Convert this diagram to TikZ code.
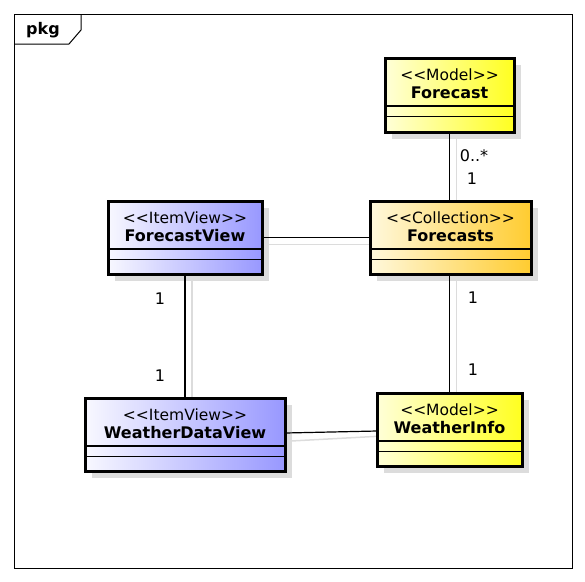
\documentclass[tikz,border=0pt]{standalone}
\usepackage{fontspec}
\setmainfont{DejaVu Sans}
\usetikzlibrary{shadows}
\pgfdeclarelayer{background}
\pgfsetlayers{background,main}
\definecolor{yelL}{HTML}{FFFFD8}
\definecolor{yelR}{HTML}{FFFF20}
\definecolor{orL}{HTML}{FFF8DC}
\definecolor{orR}{HTML}{FFCC30}
\definecolor{bluL}{HTML}{F8F8FF}
\definecolor{bluR}{HTML}{9898FF}
\definecolor{shgray}{HTML}{DCDCDC}
\tikzset{
  clsbox/.style={rectangle, draw=black, line width=3pt, inner sep=0pt, outer sep=0pt,
    drop shadow={shadow xshift=7pt, shadow yshift=-7pt, fill=shgray, opacity=1}},
  yelbox/.style={left color=yelL, right color=yelR},
  orbox/.style={left color=orL, right color=orR},
  blubox/.style={left color=bluL, right color=bluR},
  sepline/.style={draw=black, line width=1.5pt},
  stereotxt/.style={inner sep=0pt, font=\fontsize{15.5}{18}\selectfont},
  titletxt/.style={inner sep=0pt, font=\fontsize{16}{18}\selectfont\bfseries},
  multtxt/.style={inner sep=0pt, font=\fontsize{16}{18}\selectfont},
  conn/.style={draw=black, line width=1.2pt},
  connshadow/.style={draw=shgray, line width=1.5pt},
  frameline/.style={draw=black, line width=1pt},
}
\newcommand\umlcls[8]{%
  \node[clsbox,#6,minimum width=#4pt,minimum height=#5pt] (#1) at (#2,#3) {};
  \draw[sepline] ([yshift=-48pt]#1.north west) -- ([yshift=-48pt]#1.north east);
  \draw[sepline] ([yshift=-58.5pt]#1.north west) -- ([yshift=-58.5pt]#1.north east);
  \node[stereotxt] (#1-st) at ([yshift=-17pt]#1.north) {#7};
  \node[titletxt] (#1-ti) at ([yshift=-35pt]#1.north) {#8};
}
\begin{document}
\begin{tikzpicture}[x=1pt,y=-1pt]
  \useasboundingbox (0,0) rectangle (585,581);
  % frame
  \draw[frameline] (14,14) rectangle (572,568);
  \draw[frameline] (14,44) -- (69,44) -- (81,30) -- (81,14);
  \node[titletxt] (pkg) at (43,30) {pkg};
  % classes
  \umlcls{forecast}{449.5}{95}{129}{74}{yelbox}{<{}<Model>{}>}{Forecast}
  \umlcls{forecasts}{450.5}{237.5}{161}{73}{orbox}{<{}<Collection>{}>}{Forecasts}
  \umlcls{fview}{185}{237.5}{154}{73}{blubox}{<{}<ItemView>{}>}{ForecastView}
  \umlcls{wdview}{185}{434.5}{200}{73}{blubox}{<{}<ItemView>{}>}{WeatherDataView}
  \umlcls{winfo}{449.5}{429.5}{145}{73}{yelbox}{<{}<Model>{}>}{WeatherInfo}
  % connector shadows
  \begin{pgfonlayer}{background}
    \draw[connshadow] ([shift={(7pt,-6pt)}]forecast.south) -- ([shift={(7pt,-6pt)}]forecast.south |- forecasts.north);
    \draw[connshadow] ([shift={(6pt,-7pt)}]fview.east) -- ([shift={(6pt,-7pt)}]fview.east -| forecasts.west);
    \draw[connshadow] ([shift={(7pt,-6pt)}]fview.south) -- ([shift={(7pt,-6pt)}]fview.south |- wdview.north);
    \draw[connshadow] ([shift={(7pt,-6pt)}]winfo.north |- forecasts.south) -- ([shift={(7pt,-6pt)}]winfo.north);
    \draw[connshadow] ([shift={(6pt,-6.5pt)}]wdview.east) -- ([shift={(6pt,-6.5pt)}]winfo.west);
  \end{pgfonlayer}
  % connectors
  \draw[conn] (forecast.south) -- (forecast.south |- forecasts.north);
  \draw[conn] (fview.east) -- (fview.east -| forecasts.west);
  \draw[conn] (fview.south) -- (fview.south |- wdview.north);
  \draw[conn] (winfo.north |- forecasts.south) -- (winfo.north);
  \draw[conn] ([yshift=1.5pt]wdview.east) -- ([yshift=-1.5pt]winfo.west);
  % multiplicities
  \node[multtxt] (m1) at (474,156) {0..*};
  \node[multtxt] (m2) at (472,179) {1};
  \node[multtxt] (m3) at (160,299) {1};
  \node[multtxt] (m4) at (160,376) {1};
  \node[multtxt] (m5) at (473,298) {1};
  \node[multtxt] (m6) at (473,370) {1};
\end{tikzpicture}
\end{document}
